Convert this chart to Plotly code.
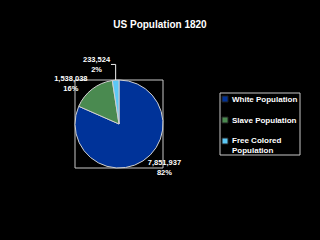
import plotly.graph_objects as go

labels = ["White Population", "Slave Population", "Free Colored<br>Population"]
values = [7851937, 1538038, 233524]
percents = ["82%", "16%", "2%"]
colors = ["#003399", "#4a8a50", "#5cc8f5"]

texts = [f"{v:,}<br>{p}" for v, p in zip(values, percents)]

W, H = 320, 240
L, R, T, B = 75, 157, 80, 72
PW, PH = W - L - R, H - T - B


def px(x):
    return (x - L) / PW


def py(y):
    return 1 - (y - T) / PH


FONT = "Liberation Sans, Arial"

fig = go.Figure(go.Pie(
    labels=labels,
    values=values,
    text=texts,
    textinfo="text",
    textposition="outside",
    sort=False,
    direction="clockwise",
    rotation=0,
    marker=dict(colors=colors, line=dict(color="#d0d0d0", width=1)),
    outsidetextfont=dict(family=FONT, size=7.5, color="white", weight="bold"),
    domain=dict(x=[0, 1], y=[0, 1]),
    showlegend=False,
))

shapes = [
    dict(type="rect", xref="paper", yref="paper", x0=0, x1=1, y0=0, y1=1,
         line=dict(color="#c8c8c8", width=1), layer="below"),
    dict(type="rect", xref="paper", yref="paper", x0=px(220), x1=px(300), y0=py(155), y1=py(93),
         line=dict(color="#c8c8c8", width=1)),
]
annotations = []
legend_y = [99, 120, 145.5]
for lab, col, yy in zip(labels, colors, legend_y):
    sy = yy if "<br>" not in lab else yy - 4.5
    shapes.append(dict(type="rect", xref="paper", yref="paper",
                       x0=px(222), x1=px(228), y0=py(sy + 3), y1=py(sy - 3),
                       fillcolor=col, line=dict(color="#202020", width=1)))
    annotations.append(dict(text=lab, xref="paper", yref="paper", x=px(229.5), y=py(yy),
                            xanchor="left", yanchor="middle", align="left", showarrow=False,
                            font=dict(family=FONT, size=8, color="white", weight="bold")))

fig.update_layout(
    width=W, height=H,
    paper_bgcolor="black", plot_bgcolor="black",
    margin=dict(l=L, r=R, t=T, b=B, autoexpand=False),
    title=dict(text="<b>US Population 1820</b>", x=0.5, xref="container", xanchor="center",
               y=1 - 24 / 240, yanchor="middle",
               font=dict(family=FONT, size=10, color="white")),
    showlegend=False,
    shapes=shapes,
    annotations=annotations,
)

fig.write_html("out.html")
